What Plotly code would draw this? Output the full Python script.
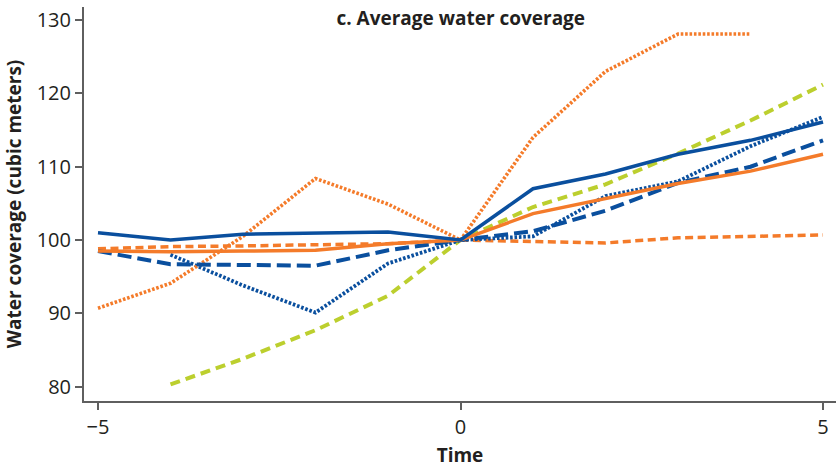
import plotly.graph_objects as go

# Time relative to the event (years)
time = [-5, -4, -3, -2, -1, 0, 1, 2, 3, 4, 5]

# Average water coverage series (cubic meters); None where no observation
blue_solid = [101.0, 100.0, 100.8, 101.0, 101.1, 100.0, 107.0, 109.0, 111.7, 113.6, 116.1]
blue_dash = [98.5, 96.7, 96.6, 96.5, 98.6, 100.0, 101.2, 104.0, 107.8, 110.0, 113.6]
blue_dot = [None, 98.0, 93.8, 90.1, 96.8, 100.0, 100.5, 106.0, 108.0, 112.8, 116.8]
green_dash = [None, 80.3, 83.8, 87.7, 92.4, 100.0, 104.5, 107.6, 111.8, 116.3, 121.2]
orange_solid = [98.5, 98.4, 98.5, 98.6, 99.5, 100.0, 103.6, 105.6, 107.7, 109.4, 111.7]
orange_dash = [98.8, 99.1, 99.2, 99.4, 99.5, 100.0, 99.8, 99.6, 100.3, 100.5, 100.7]
orange_dot = [90.7, 94.1, 100.5, 108.4, 104.9, 100.0, 114.0, 123.0, 128.1, 128.1, None]

y_ticks = [80, 90, 100, 110, 120, 130]
x_ticks = [-5, 0, 5]

BLUE = "#0a4f9e"
ORANGE = "#f47b2a"
GREEN = "#bccf2e"
TEXT = "#231f20"
AXIS = "#5f5f5f"
FONT = "Open Sans"

series = [
    (orange_dash, ORANGE, "8px,4.5px", 3.5),
    (green_dash, GREEN, "10px,6px", 4),
    (blue_dot, BLUE, "2.6px,1.8px", 3.8),
    (orange_dot, ORANGE, "2.6px,1.8px", 3.6),
    (blue_dash, BLUE, "14px,6px", 4),
    (orange_solid, ORANGE, "solid", 3.5),
    (blue_solid, BLUE, "solid", 3.5),
]

fig = go.Figure()
for values, color, dash, width in series:
    fig.add_trace(go.Scatter(
        x=time, y=values, mode="lines",
        line=dict(color=color, width=width, dash=dash),
        connectgaps=False, showlegend=False, hoverinfo="skip",
    ))

fig.update_layout(
    width=836, height=471,
    margin=dict(l=84, r=0, t=7, b=70),
    paper_bgcolor="white", plot_bgcolor="white",
    font=dict(family=FONT, color=TEXT),
    title=dict(
        text="c. Average water coverage",
        font=dict(family=FONT, size=19, color=TEXT, weight=700),
        x=0.501, xref="paper", xanchor="center",
        y=1 - 18 / 471, yref="container", yanchor="middle",
    ),
)

fig.update_xaxes(
    range=[-5.193, 5.179],
    tickvals=x_ticks, ticktext=["\u22125", "0", "5"],
    ticks="outside", ticklen=7, tickwidth=1.5, tickcolor=AXIS,
    showline=True, linecolor=AXIS, linewidth=2,
    showgrid=False, zeroline=False,
    tickfont=dict(family=FONT, size=20, color=TEXT),
    title=dict(text="Time", font=dict(family=FONT, size=19, color=TEXT, weight=700), standoff=10),
)
fig.update_yaxes(
    range=[78.04, 131.79],
    tickvals=y_ticks,
    ticks="outside", ticklen=7, tickwidth=1.5, tickcolor=AXIS,
    showline=True, linecolor=AXIS, linewidth=2,
    showgrid=False, zeroline=False,
    tickfont=dict(family=FONT, size=20, color=TEXT),
    title=dict(text="Water coverage (cubic meters)",
               font=dict(family=FONT, size=19, color=TEXT, weight=700), standoff=10),
)

fig.write_html("out.html")
